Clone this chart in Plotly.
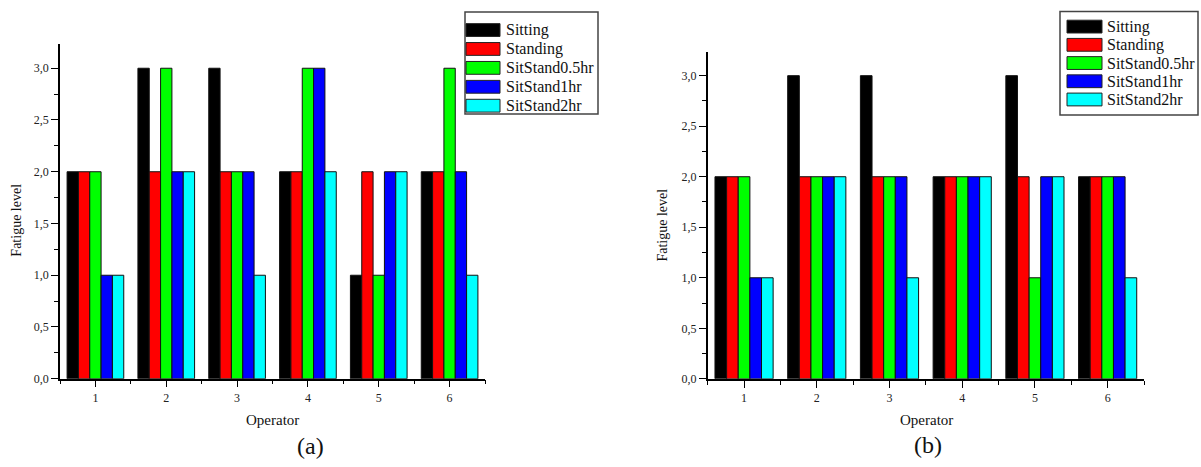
import plotly.graph_objects as go

W, H = 1201, 467

operators = [1, 2, 3, 4, 5, 6]
x_ticktext = ["1", "2", "3", "4", "5", "6"]
series_names = ["Sitting", "Standing", "SitStand0.5hr", "SitStand1hr", "SitStand2hr"]
series_colors = ["#000000", "#FF0000", "#00FF00", "#0000FF", "#00FFFF"]

# Panel (a)
a_sitting = [2, 3, 3, 2, 1, 2]
a_standing = [2, 2, 2, 2, 2, 2]
a_sitstand05 = [2, 3, 2, 3, 1, 3]
a_sitstand1 = [1, 2, 2, 3, 2, 2]
a_sitstand2 = [1, 2, 1, 2, 2, 1]

# Panel (b)
b_sitting = [2, 3, 3, 2, 3, 2]
b_standing = [2, 2, 2, 2, 2, 2]
b_sitstand05 = [2, 2, 2, 2, 1, 2]
b_sitstand1 = [1, 2, 2, 2, 2, 2]
b_sitstand2 = [1, 2, 1, 2, 2, 1]

y_tickvals = [0, 0.5, 1, 1.5, 2, 2.5, 3]
y_ticktext = ["0,0", "0,5", "1,0", "1,5", "2,0", "2,5", "3,0"]
y_minor = [0.25, 0.75, 1.25, 1.75, 2.25, 2.75]
x_minor = [0.5, 1.5, 2.5, 3.5, 4.5, 5.5, 6.5]

FONT = "Liberation Serif"

def px(x):
    return x / W

def py(y):
    return 1 - y / H

fig = go.Figure()

panel_a = [a_sitting, a_standing, a_sitstand05, a_sitstand1, a_sitstand2]
panel_b = [b_sitting, b_standing, b_sitstand05, b_sitstand1, b_sitstand2]

for name, color, vals in zip(series_names, series_colors, panel_a):
    fig.add_trace(go.Bar(x=operators, y=vals, name=name, marker_color=color,
                         marker_line=dict(color="#111111", width=1),
                         xaxis="x", yaxis="y", showlegend=False))
for name, color, vals in zip(series_names, series_colors, panel_b):
    fig.add_trace(go.Bar(x=operators, y=vals, name=name, marker_color=color,
                         marker_line=dict(color="#111111", width=1),
                         xaxis="x2", yaxis="y2", showlegend=False))

tickfont = dict(family=FONT, size=12, color="#222222")

def xaxis_cfg(d0, d1, anchor):
    return dict(domain=[px(d0), px(d1)], range=[0.5, 6.5], anchor=anchor,
                showline=True, linecolor="#000000", linewidth=1.5,
                ticks="outside", ticklen=7, tickwidth=1.2, tickcolor="#000000",
                tickvals=operators, ticktext=x_ticktext, tickfont=tickfont,
                minor=dict(tickvals=x_minor, ticks="outside", ticklen=4,
                           tickcolor="#000000", tickwidth=1),
                showgrid=False, zeroline=False, fixedrange=True)

def yaxis_cfg(d0, d1, top, anchor):
    return dict(domain=[py(d1), py(d0)], range=[0, top], anchor=anchor,
                showline=True, linecolor="#000000", linewidth=1.5,
                ticks="outside", ticklen=7, tickwidth=1.2, tickcolor="#000000",
                tickvals=y_tickvals, ticktext=y_ticktext, tickfont=tickfont,
                minor=dict(tickvals=y_minor, ticks="outside", ticklen=4,
                           tickcolor="#000000", tickwidth=1),
                showgrid=False, zeroline=False, fixedrange=True)

shapes = []
annotations = []

def add_legend(x0, y0, x1, y1, sw_x0, sw_x1, text_x, rows):
    shapes.append(dict(type="rect", xref="paper", yref="paper",
                       x0=px(x0), x1=px(x1), y0=py(y1), y1=py(y0),
                       line=dict(color="#444444", width=1.5), fillcolor="white"))
    for name, color, yc in zip(series_names, series_colors, rows):
        shapes.append(dict(type="rect", xref="paper", yref="paper",
                           x0=px(sw_x0), x1=px(sw_x1), y0=py(yc + 6.5), y1=py(yc - 6.5),
                           line=dict(color="#222222", width=1), fillcolor=color))
        annotations.append(dict(text=name, xref="paper", yref="paper",
                                x=px(text_x), y=py(yc), xanchor="left", yanchor="middle",
                                showarrow=False,
                                font=dict(family=FONT, size=16, color="#111111")))

add_legend(465, 12.3, 598, 115.7, 466, 500, 504, [30.5, 49.7, 68.9, 88.1, 107.3])
add_legend(1060, 11.7, 1198, 116.7, 1067, 1102, 1105, [27, 45.5, 64, 82.5, 101])

def label(text, x, y, size, angle=0):
    annotations.append(dict(text=text, xref="paper", yref="paper", x=px(x), y=py(y),
                            xanchor="center", yanchor="middle", showarrow=False,
                            textangle=angle,
                            font=dict(family=FONT, size=size, color="#111111")))

label("Operator", 272, 426, 15)
label("Operator", 926, 426, 15)
label("Fatigue level", 17, 224, 14, -90)
label("Fatigue level", 663, 229, 14, -90)
label("(a)", 310, 453, 24)
label("(b)", 928, 452, 24)

fig.update_layout(
    width=W, height=H,
    margin=dict(l=0, r=0, t=0, b=0),
    paper_bgcolor="white", plot_bgcolor="white",
    barmode="group", bargap=0.2, bargroupgap=0,
    showlegend=False,
    xaxis=xaxis_cfg(60, 485, "y"),
    yaxis=yaxis_cfg(45, 384.5, 3.231, "x"),
    xaxis2=xaxis_cfg(707.7, 1144, "y2"),
    yaxis2=yaxis_cfg(52.7, 384.6, 3.235, "x2"),
    shapes=shapes,
    annotations=annotations,
    font=dict(family=FONT),
)

fig.write_html("out.html")
